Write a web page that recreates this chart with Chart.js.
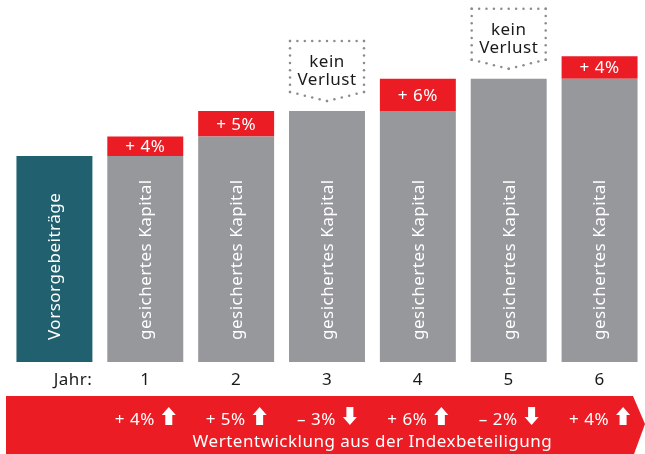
<!DOCTYPE html>
<html lang="de">
<head>
<meta charset="utf-8">
<script src="https://cdn.jsdelivr.net/npm/chart.js@4.4.1/dist/chart.umd.min.js"></script>
<style>
  html, body { margin: 0; padding: 0; background: #fff; }
</style>
</head>
<body>
<canvas id="chart" width="645" height="454"></canvas>
<script>
const years = ['Jahr:', '1', '2', '3', '4', '5', '6'];
const barTexts = ['Vorsorgebeiträge', 'gesichertes Kapital', 'gesichertes Kapital', 'gesichertes Kapital',
  'gesichertes Kapital', 'gesichertes Kapital', 'gesichertes Kapital'];
// Wertentwicklung des Index pro Jahr in %
const indexChange = [null, 4, 5, -3, 6, -2, 4];
// gesichertes Kapital (Vorsorgebeiträge = 100)
const securedCapital = [100, 100, 104, 109.2, 109.2, 115.8, 115.8];
// Zuwachs im jeweiligen Jahr
const yearGain = [0, 4, 5.2, 0, 6.6, 0, 4.6];

const TEAL = '#20606f';
const GREY = '#97989c';
const RED = '#ec1c24';
const FONT = '17px "Noto Sans", sans-serif';

function pct(v) {
  return (v < 0 ? '\u2013 ' : '+ ') + Math.abs(v) + '%';
}

function dotLine(ctx, x1, y1, x2, y2, step) {
  const len = Math.hypot(x2 - x1, y2 - y1);
  const n = Math.max(1, Math.round(len / step));
  for (let k = 0; k <= n; k++) {
    const t = k / n;
    ctx.beginPath();
    ctx.arc(x1 + (x2 - x1) * t, y1 + (y2 - y1) * t, 1.25, 0, Math.PI * 2);
    ctx.fill();
  }
}

function arrow(ctx, x, top, up) {
  const h = 18, hh = 8, s = 3.5;
  const pts = up
    ? [[7, 0], [14, hh], [7 + s, hh], [7 + s, h], [7 - s, h], [7 - s, hh], [0, hh]]
    : [[7, h], [14, h - hh], [7 + s, h - hh], [7 + s, 0], [7 - s, 0], [7 - s, h - hh], [0, h - hh]];
  ctx.beginPath();
  pts.forEach(([px, py], i) => i ? ctx.lineTo(x + px, top + py) : ctx.moveTo(x + px, top + py));
  ctx.closePath();
  ctx.fill();
}

const decorations = {
  id: 'decorations',
  afterDatasetsDraw(chart) {
    const ctx = chart.ctx;
    const base = chart.getDatasetMeta(0).data;
    const gain = chart.getDatasetMeta(1).data;
    ctx.save();
    ctx.font = FONT;
    ctx.letterSpacing = '0.5px';
    ctx.textBaseline = 'middle';

    // senkrechte Beschriftung in den Balken
    ctx.fillStyle = '#fff';
    ctx.textAlign = 'left';
    base.forEach((el, i) => {
      ctx.save();
      ctx.translate(el.x + 1, 340);
      ctx.rotate(-Math.PI / 2);
      ctx.fillText(barTexts[i], 0, 0);
      ctx.restore();
    });

    // Zuwachs im roten Balkenteil
    ctx.textAlign = 'center';
    gain.forEach((el, i) => {
      if (!yearGain[i]) return;
      ctx.fillText(pct(indexChange[i]), el.x, (el.y + el.base) / 2 + 1);
    });

    // "kein Verlust" in Jahren mit negativer Wertentwicklung
    indexChange.forEach((v, i) => {
      if (v === null || v >= 0) return;
      const el = base[i];
      const l = el.x - 37, r = el.x + 37;
      const top = el.y - 70, side = el.y - 19, tip = el.y - 10;
      ctx.fillStyle = '#8c8c8c';
      dotLine(ctx, l, top, r, top, 7.5);
      dotLine(ctx, l, top, l, side, 7.5);
      dotLine(ctx, r, top, r, side, 7.5);
      dotLine(ctx, l, side, el.x, tip, 7.5);
      dotLine(ctx, r, side, el.x, tip, 7.5);
      ctx.fillStyle = '#1a1a1a';
      ctx.fillText('kein', el.x, el.y - 49);
      ctx.fillText('Verlust', el.x, el.y - 31);
    });
    ctx.restore();
  },
  afterDraw(chart) {
    const ctx = chart.ctx;
    const base = chart.getDatasetMeta(0).data;
    ctx.save();
    ctx.font = FONT;
    ctx.letterSpacing = '0.5px';
    ctx.textBaseline = 'middle';

    // Jahre
    ctx.fillStyle = '#1a1a1a';
    base.forEach((el, i) => {
      if (i === 0) {
        ctx.textAlign = 'right';
        ctx.fillText(years[i], el.x + el.width / 2, 380);
      } else {
        ctx.textAlign = 'center';
        ctx.fillText(years[i], el.x, 380);
      }
    });

    // roter Pfeil mit der Wertentwicklung
    ctx.fillStyle = RED;
    ctx.beginPath();
    ctx.moveTo(6, 396);
    ctx.lineTo(633, 396);
    ctx.lineTo(645, 424);
    ctx.lineTo(634, 454);
    ctx.lineTo(6, 454);
    ctx.closePath();
    ctx.fill();

    ctx.fillStyle = '#fff';
    ctx.textAlign = 'left';
    base.forEach((el, i) => {
      const v = indexChange[i];
      if (v === null) return;
      const t = pct(v);
      const tw = ctx.measureText(t).width;
      const x0 = el.x - (tw + 7 + 14) / 2;
      ctx.fillText(t, x0, 420);
      arrow(ctx, x0 + tw + 7, 407, v >= 0);
    });
    ctx.textAlign = 'center';
    ctx.fillText('Wertentwicklung aus der Indexbeteiligung', (base[1].x + base[6].x) / 2, 442);
    ctx.restore();
  }
};

new Chart(document.getElementById('chart'), {
  type: 'bar',
  data: {
    labels: years,
    datasets: [{
      label: 'gesichertes Kapital',
      data: securedCapital,
      backgroundColor: securedCapital.map((v, i) => i === 0 ? TEAL : GREY),
      barPercentage: 0.836,
      categoryPercentage: 1
    }, {
      label: 'Zuwachs',
      data: yearGain,
      backgroundColor: RED,
      barPercentage: 0.836,
      categoryPercentage: 1
    }]
  },
  options: {
    responsive: false,
    animation: false,
    devicePixelRatio: 1,
    layout: { padding: { left: 9, right: 0, top: 0, bottom: 92 } },
    plugins: { legend: { display: false }, tooltip: { enabled: false } },
    scales: {
      x: { stacked: true, display: false },
      y: { stacked: true, display: false, min: 57.9, max: 131.9 }
    }
  },
  plugins: [decorations]
});
</script>
</body>
</html>
